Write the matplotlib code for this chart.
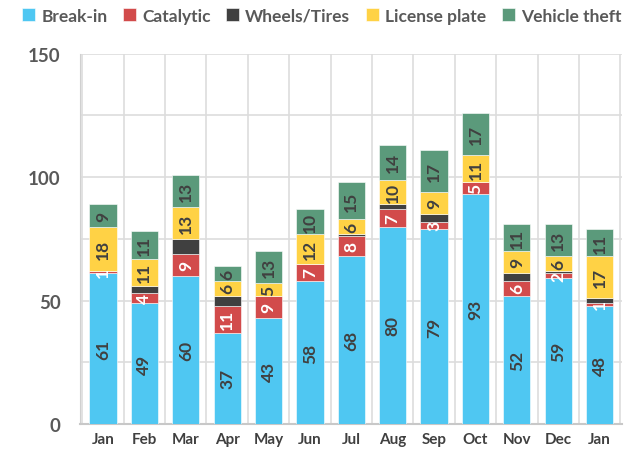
import matplotlib.pyplot as plt
import numpy as np

months = ['Jan', 'Feb', 'Mar', 'Apr', 'May', 'Jun', 'Jul', 'Aug', 'Sep', 'Oct', 'Nov', 'Dec', 'Jan']
break_in = [61, 49, 60, 37, 43, 58, 68, 80, 79, 93, 52, 59, 48]
catalytic = [1, 4, 9, 11, 9, 7, 8, 7, 3, 5, 6, 2, 1]
wheels = [0, 3, 6, 4, 0, 0, 1, 2, 3, 0, 3, 1, 2]
license_plate = [18, 11, 13, 6, 5, 12, 6, 10, 9, 11, 9, 6, 17]
vehicle_theft = [9, 11, 13, 6, 13, 10, 15, 14, 17, 17, 11, 13, 11]

series = [
    ('Break-in', break_in, '#4FC7F2', '#404040'),
    ('Catalytic', catalytic, '#D24B4B', 'white'),
    ('Wheels/Tires', wheels, '#404040', None),
    ('License plate', license_plate, '#FFD245', '#404040'),
    ('Vehicle theft', vehicle_theft, '#5B9A7B', '#404040'),
]

plt.rcParams['font.family'] = ['Lato', 'DejaVu Sans']

fig = plt.figure(figsize=(6.37, 4.60), dpi=100)
ax = fig.add_axes([0.126, 0.076, 0.851, 0.805])

x = np.arange(len(months))
bottom = np.zeros(len(months))
for name, vals, color, tcolor in series:
    vals = np.array(vals, dtype=float)
    ax.bar(x, vals, 0.66, bottom=bottom, color=color, label=name,
           edgecolor='white', linewidth=0.4, zorder=3)
    if tcolor is not None:
        for xi, b, v in zip(x, bottom, vals):
            if v > 0:
                ax.text(xi, b + v / 2, str(int(v)), rotation=90, ha='center', va='center',
                        color=tcolor, fontsize=12.5, fontweight='bold', zorder=4)
    bottom += vals

ax.set_xlim(-0.55, len(months) - 0.45)
ax.set_ylim(0, 150)
ax.set_yticks([0, 50, 100, 150])
ax.set_yticks([25, 75, 125], minor=True)
ax.tick_params(axis='y', which='both', length=0, pad=14)
ax.tick_params(axis='x', length=0, pad=6)
ax.set_xticks(x)
ax.set_xticklabels(months)
for lbl in ax.get_xticklabels():
    lbl.set_fontweight('bold')
    lbl.set_fontsize(11)
    lbl.set_color('#404040')
for lbl in ax.get_yticklabels():
    lbl.set_fontweight('bold')
    lbl.set_fontsize(13.5)
    lbl.set_color('#595959')

ax.grid(axis='y', which='both', color='#DDDDDD', linewidth=1.2, zorder=0)
for xv in np.arange(-0.5, len(months), 1.0):
    ax.axvline(xv, color='#DDDDDD', linewidth=1.2, zorder=0)
for s in ['top', 'right']:
    ax.spines[s].set_visible(False)
ax.spines['left'].set_color('#D0D0D0')
ax.spines['bottom'].set_color('#C8C8C8')
ax.spines['bottom'].set_linewidth(1.5)

leg = fig.legend(loc='upper center', bbox_to_anchor=(0.505, 1.015), ncol=5, frameon=False,
                 handlelength=0.75, handleheight=0.75, handletextpad=0.35, columnspacing=0.9,
                 prop={'weight': 'bold', 'size': 12.5})
for t in leg.get_texts():
    t.set_color('#595959')

fig.savefig('out.png', dpi=100)
